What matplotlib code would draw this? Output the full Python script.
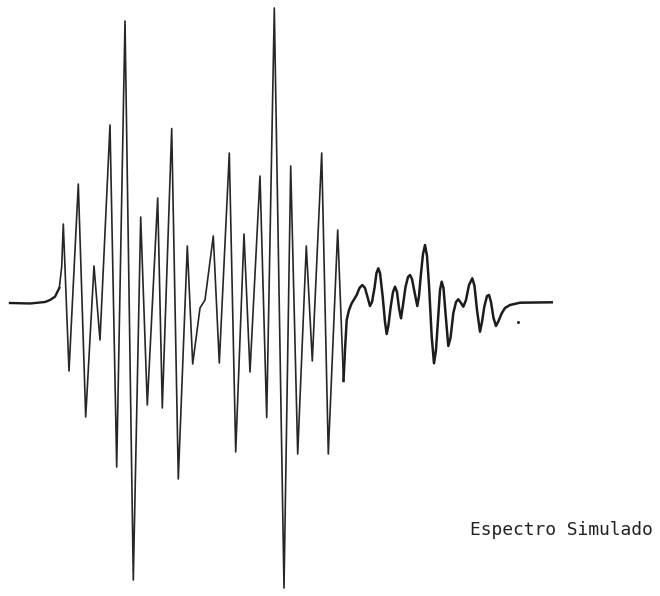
import matplotlib
matplotlib.use("Agg")
import matplotlib.pyplot as plt

# simulated spectrum, traced turning points (field position, signal above baseline)
# sharp part of the spectrum
campo = [10, 30, 45, 50, 55, 59.3, 61.7, 63.3,
         69, 78.3, 85.7, 94, 100, 110, 116.7, 125, 133.3, 140.7, 147.3, 157.7,
         162.3, 171.7, 178.3, 187.3, 192.7,
         200, 205, 213.3, 219.3, 229.3, 235.7, 244, 250, 260, 266.7, 274.3,
         284, 290.7, 297.7, 306.3, 312.3, 321.7, 328.3, 337.7, 343.5]
senal = [0, -0.5, 1, 3, 6.3, 15, 36.3, 79,
         -68, 119, -114, 37, -37, 178, -164, 282, -277, 86, -102, 105,
         -105, 174.5, -176, 57, -61,
         -5, 3, 67, -60, 150, -149, 69, -69, 127, -114.5, 295,
         -285, 137, -151, 57, -58, 150, -151, 73, -78]

# broad tail at high field
cola_x = [343.5, 345, 346.7, 349, 351.7, 356.7, 359.5, 362.3, 365, 367.5,
          370, 372, 374.5, 376.5, 378.3, 380, 382.7, 385, 386.7, 388.5,
          390.7, 393, 395, 397, 399, 401, 403, 405.5, 408, 410,
          412, 414.5, 417.3, 419, 421, 423, 425, 427, 429, 431.7,
          434, 436, 438, 440, 441.7, 443.5, 445.5, 448.3, 450.5, 453.3,
          456, 458.3, 461, 463.3, 466, 469, 472.3, 474.5, 477, 480,
          482, 484.3, 487, 489, 491, 493.5, 496, 498.5, 501.7, 505,
          510, 520, 551.7]
cola_y = [-78, -47, -17, -7, -0.3, 8, 15, 18, 15, 6,
          -3, 1, 15, 30, 34.7, 30, 6.3, -19, -31, -22,
          -3.7, 11, 16.3, 11, -5, -15.3, -2, 16, 26, 28,
          24, 11, -3, 7, 29.7, 49, 58, 47, 18, -33.7,
          -60.3, -47, -17, 13, 21.3, 15, -10, -43, -35, -10.3,
          1, 3.7, 0, -3.7, 3, 18, 24.7, 17, -7, -28.7,
          -19, -3.7, 7, 8, 1, -15, -23, -18, -10.3, -5,
          -2, 0.3, 0.7]

# stray speck left on the chart paper
mancha_x = [517.7]
mancha_y = [-18.7]

etiqueta = "Espectro Simulado"

fig = plt.figure(figsize=(6.6, 5.96), dpi=100)
ax = fig.add_axes([0, 0, 1, 1])
ax.plot(campo[:6], senal[:6], color="#1c1c1c", lw=1.7)
ax.plot(campo[5:], senal[5:], color="#262626", lw=1.2)
ax.plot(cola_x, cola_y, color="#1c1c1c", lw=1.8)
ax.plot(mancha_x, mancha_y, ".", color="#333333", ms=2.5)
ax.set_xlim(0, 660)
ax.set_ylim(303 - 596, 303)
ax.axis("off")

fig.text(470 / 660, 1 - 535 / 596, etiqueta, fontsize=12.9,
         family="DejaVu Sans Mono", color="#222222", va="baseline", ha="left")

fig.savefig("out.png", dpi=100, facecolor="white")
